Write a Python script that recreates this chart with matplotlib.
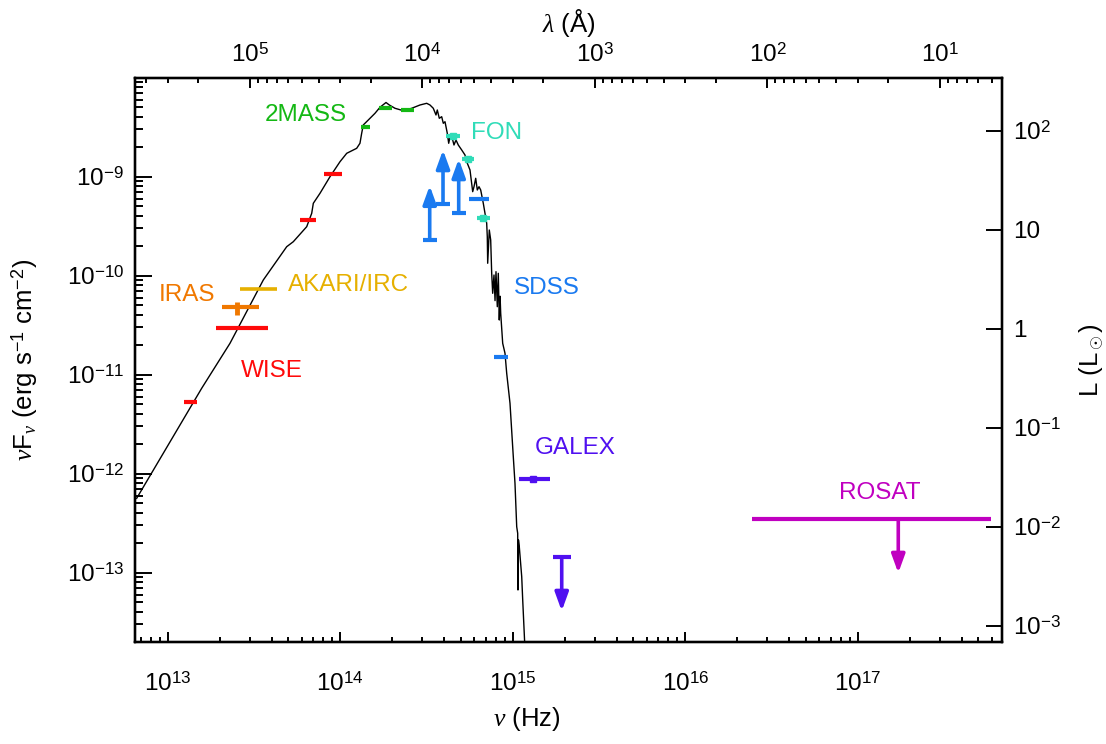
import numpy as np
import matplotlib
matplotlib.use('Agg')
import matplotlib.pyplot as plt
from matplotlib.ticker import LogLocator, FuncFormatter, NullFormatter, NullLocator

plt.rcParams['font.family'] = ['Liberation Sans', 'DejaVu Sans']
plt.rcParams['mathtext.fontset'] = 'custom'
plt.rcParams['mathtext.rm'] = 'Liberation Sans'
plt.rcParams['mathtext.it'] = 'Liberation Serif:italic'
plt.rcParams['mathtext.bf'] = 'Liberation Sans:bold'
plt.rcParams['mathtext.sf'] = 'Liberation Sans'

# ---------------- data ----------------
# model stellar SED (nu in Hz, nuFnu in erg s^-1 cm^-2)
model_nu = [6.61e12, 1.574e13, 2.297e13, 3.583e13, 4.897e13, 5.348e13, 6.395e13, 6.837e13,
            6.985e13, 7.637e13, 8.727e13, 9.973e13, 1.091e14, 1.246e14, 1.302e14, 1.332e14,
            1.361e14, 1.455e14, 1.591e14, 1.701e14, 1.843e14, 1.926e14, 2.078e14, 2.322e14,
            2.597e14, 2.901e14, 3.172e14, 3.315e14, 3.465e14, 3.592e14, 3.655e14, 3.754e14,
            3.876e14, 3.960e14, 4.051e14, 4.177e14, 4.256e14, 4.330e14, 4.489e14, 4.567e14,
            4.691e14, 4.837e14, 5.062e14, 5.290e14, 5.412e14, 5.655e14, 5.863e14, 5.966e14,
            6.103e14, 6.235e14, 6.378e14, 6.524e14, 6.754e14, 7.067e14, 7.124e14, 7.162e14,
            7.317e14, 7.455e14, 7.555e14, 7.657e14, 7.791e14, 7.900e14, 8.002e14, 8.142e14,
            8.251e14, 8.362e14, 8.450e14, 8.520e14, 8.750e14, 9.024e14, 9.231e14, 9.647e14,
            1.008e15, 1.031e15, 1.055e15, 1.069e15, 1.073e15, 1.080e15, 1.092e15, 1.128e15,
            1.143e15, 1.186e15]
model_flux = [5.643e-13, 7.29e-12, 2.076e-11, 9.05e-11, 1.963e-10, 2.205e-10, 3.126e-10, 4.268e-10,
              5.386e-10, 6.797e-10, 1.0e-9, 1.417e-9, 1.723e-9, 1.935e-9, 2.175e-9, 2.744e-9,
              3.330e-9, 3.738e-9, 4.369e-9, 5.024e-9, 5.617e-9, 5.300e-9, 4.909e-9, 4.642e-9,
              4.909e-9, 5.300e-9, 5.512e-9, 5.300e-9, 4.909e-9, 4.200e-9, 4.718e-9, 3.889e-9,
              4.036e-9, 3.462e-9, 3.593e-9, 2.744e-9, 2.175e-9, 2.536e-9, 2.348e-9, 2.090e-9,
              2.348e-9, 2.090e-9, 1.862e-9, 1.657e-9, 1.417e-9, 1.169e-9, 7.057e-10, 7.925e-10,
              9.635e-10, 7.339e-10, 7.925e-10, 7.339e-10, 5.386e-10, 3.383e-10, 2.478e-10, 1.335e-10,
              2.894e-10, 2.294e-10, 1.057e-10, 6.641e-11, 1.016e-10, 5.600e-11, 1.098e-10, 4.862e-11,
              1.057e-10, 3.568e-11, 6.200e-11, 4.171e-11, 2.076e-11, 1.645e-11, 1.033e-11, 5.141e-12,
              1.485e-12, 8.0e-13, 2.914e-13, 2.500e-13, 6.687e-14, 2.139e-13, 1.831e-13, 9.11e-14,
              5.30e-14, 1.313e-14]

# WISE (W4, W3, W2, W1): band edges and flux
wise_nu_lo = [1.243e13, 1.898e13, 5.848e13, 8.024e13]
wise_nu_hi = [1.484e13, 3.800e13, 7.211e13, 1.020e14]
wise_flux = [5.33e-12, 2.983e-11, 3.652e-10, 1.065e-9]

# IRAS 12 um
iras_nu = [2.532e13]
iras_nu_lo = [2.056e13]
iras_nu_hi = [3.383e13]
iras_flux = [4.795e-11]
iras_flux_lo = [4.009e-11]
iras_flux_hi = [5.462e-11]

# AKARI/IRC 9 um
akari_nu_lo = [2.636e13]
akari_nu_hi = [4.301e13]
akari_flux = [7.29e-11]

# 2MASS (Ks, H, J)
tmass_nu_lo = [1.315e14, 1.686e14, 2.252e14]
tmass_nu_hi = [1.495e14, 1.990e14, 2.689e14]
tmass_flux = [3.155e-9, 4.942e-9, 4.718e-9]

# FON
fon_nu = [4.51e14, 5.52e14, 6.76e14]
fon_nu_lo = [4.104e14, 5.103e14, 6.184e14]
fon_nu_hi = [4.950e14, 5.966e14, 7.386e14]
fon_flux = [2.595e-9, 1.499e-9, 3.826e-10]

# SDSS lower limits (z, i, r) and measurements (g, u)
sdss_lim_nu = [3.303e14, 3.945e14, 4.864e14]
sdss_lim_flux = [2.294e-10, 5.30e-10, 4.268e-10]
sdss_lim_tip = [8.11e-10, 1.862e-9, 1.51e-9]
sdss_nu_lo = [5.603e14, 7.826e14]
sdss_nu_hi = [7.259e14, 9.430e14]
sdss_flux = [5.953e-10, 1.52e-11]

# GALEX NUV detection and FUV upper limit
galex_nu = [1.316e15]
galex_nu_lo = [1.088e15]
galex_nu_hi = [1.652e15]
galex_flux = [8.84e-13]
galex_ul_nu = [1.924e15]
galex_ul_flux = [1.431e-13]
galex_ul_tip = [4.10e-14]

# ROSAT upper limit
rosat_nu = [1.719e17]
rosat_nu_lo = [2.449e16]
rosat_nu_hi = [5.902e17]
rosat_flux = [3.462e-13]
rosat_tip = [9.93e-14]

lum_factor = 3.44e10      # L/Lsun per unit nuFnu
c_ang = 2.998e18          # speed of light in Angstrom/s

xlim = (6.463e12, 6.836e17)
ylim = (2.009e-14, 9.86e-9)

# ---------------- colours ----------------
c_wise = '#ff0a0a'
c_iras = '#f07800'
c_akari = '#e6b000'
c_2mass = '#14b814'
c_fon = '#30dcb8'
c_sdss = '#1a7af0'
c_galex = '#5010f0'
c_rosat = '#c000c0'

fig = plt.figure(figsize=(11.06, 7.44), dpi=100)
ax = fig.add_axes([0.12206, 0.1375, 0.78363, 0.75726])
ax.set_xscale('log')
ax.set_yscale('log')
ax.set_xlim(*xlim)
ax.set_ylim(*ylim)

ax.plot(model_nu, model_flux, color='black', lw=1.0, zorder=2)

LW = 3.0
def hbar(lo, hi, y, color, lw=LW):
    for a, b, v in zip(lo, hi, y):
        ax.plot([a, b], [v, v], color=color, lw=lw, solid_capstyle='butt', zorder=3)

def up_arrow(x, y0, y1, color):
    ax.annotate('', xy=(x, y1), xytext=(x, y0),
                arrowprops=dict(arrowstyle='-|>,head_length=0.55,head_width=0.2',
                                color=color, lw=2.6, shrinkA=0, shrinkB=0,
                                mutation_scale=20), zorder=3)

hbar(wise_nu_lo, wise_nu_hi, wise_flux, c_wise)
hbar(iras_nu_lo, iras_nu_hi, iras_flux, c_iras)
for x, lo, hi in zip(iras_nu, iras_flux_lo, iras_flux_hi):
    ax.plot([x, x], [lo, hi], color=c_iras, lw=3.5, solid_capstyle='butt', zorder=3)
hbar(akari_nu_lo, akari_nu_hi, akari_flux, c_akari, lw=2.6)
hbar(tmass_nu_lo, tmass_nu_hi, tmass_flux, c_2mass)
hbar(fon_nu_lo, fon_nu_hi, fon_flux, c_fon)
ax.plot(fon_nu, fon_flux, ls='none', marker='s', ms=5, color=c_fon, zorder=3)

hbar(sdss_nu_lo, sdss_nu_hi, sdss_flux, c_sdss)
ax.plot(sdss_lim_nu, sdss_lim_flux, ls='none', marker='_', ms=9.5, mew=3, color=c_sdss, zorder=3)
for x, y0, y1 in zip(sdss_lim_nu, sdss_lim_flux, sdss_lim_tip):
    up_arrow(x, y0, y1, c_sdss)

hbar(galex_nu_lo, galex_nu_hi, galex_flux, c_galex)
ax.plot(galex_nu, galex_flux, ls='none', marker='s', ms=4.5, color=c_galex, zorder=3)
ax.plot(galex_ul_nu, galex_ul_flux, ls='none', marker='_', ms=13, mew=3, color=c_galex, zorder=3)
for x, y0, y1 in zip(galex_ul_nu, galex_ul_flux, galex_ul_tip):
    up_arrow(x, y0, y1, c_galex)

hbar(rosat_nu_lo, rosat_nu_hi, rosat_flux, c_rosat)
for x, y0, y1 in zip(rosat_nu, rosat_flux, rosat_tip):
    up_arrow(x, y0, y1, c_rosat)

# labels
FS = 17.5
lab_kw = dict(ha='center', va='center', fontsize=FS, zorder=4)
ax.text(6.36e13, 4.2e-9, '2MASS', color=c_2mass, **lab_kw)
ax.text(8.04e14, 2.74e-9, 'FON', color=c_fon, **lab_kw)
ax.text(1.57e15, 7.46e-11, 'SDSS', color=c_sdss, **lab_kw)
ax.text(1.294e13, 6.31e-11, 'IRAS', color=c_iras, **lab_kw)
ax.text(1.122e14, 8.05e-11, 'AKARI/IRC', color=c_akari, **lab_kw)
ax.text(4.0e13, 1.10e-11, 'WISE', color=c_wise, **lab_kw)
ax.text(2.313e15, 1.83e-12, 'GALEX', color=c_galex, **lab_kw)
ax.text(1.347e17, 6.38e-13, 'ROSAT', color=c_rosat, **lab_kw)

# ---------------- axes styling ----------------
def pow_fmt(v, pos):
    e = int(round(np.log10(v)))
    return r'10$^{%d}$' % e

def lum_fmt(v, pos):
    e = int(round(np.log10(v)))
    if e == 0:
        return '1'
    if e == 1:
        return '10'
    return r'10$^{%d}$' % e

for s in ax.spines.values():
    s.set_linewidth(1.6)

ax.xaxis.set_major_locator(LogLocator(base=10, numticks=30))
ax.xaxis.set_minor_locator(LogLocator(base=10, subs=np.arange(2, 10), numticks=100))
ax.yaxis.set_major_locator(LogLocator(base=10, numticks=30))
ax.yaxis.set_minor_locator(LogLocator(base=10, subs=np.arange(2, 10), numticks=100))
ax.xaxis.set_major_formatter(FuncFormatter(pow_fmt))
ax.yaxis.set_major_formatter(FuncFormatter(pow_fmt))
ax.xaxis.set_minor_formatter(NullFormatter())
ax.yaxis.set_minor_formatter(NullFormatter())
ax.tick_params(which='both', direction='in', labelsize=FS, width=1.4, colors='black')
ax.tick_params(axis='x', which='major', length=7.5, pad=22)
ax.tick_params(axis='x', which='minor', length=3.8)
ax.tick_params(axis='y', which='major', length=12.2, pad=8)
ax.tick_params(axis='y', which='minor', length=6)

ax.set_xlabel(r'$\nu$ (Hz)', fontsize=FS + 1)
ax.xaxis.set_label_coords(0.452, -0.112)
ax.set_ylabel(r'$\nu$F$_\nu$ (erg s$^{-1}$ cm$^{-2}$)', fontsize=FS + 1)
ax.yaxis.set_label_coords(-0.11, 0.5)

# top wavelength axis
axt = ax.twiny()
axt.set_xscale('log')
axt.set_xlim(c_ang / xlim[0], c_ang / xlim[1])
axt.xaxis.set_major_locator(LogLocator(base=10, numticks=30))
axt.xaxis.set_minor_locator(LogLocator(base=10, subs=np.arange(2, 10), numticks=100))
axt.xaxis.set_major_formatter(FuncFormatter(pow_fmt))
axt.xaxis.set_minor_formatter(NullFormatter())
axt.tick_params(which='both', direction='in', labelsize=FS, width=1.4)
axt.tick_params(which='major', length=7.5, pad=8)
axt.tick_params(which='minor', length=3.8)
axt.set_xlabel(r'$\lambda$ ($\mathrm{\AA}$)', fontsize=FS + 1, labelpad=8)

# right luminosity axis
axr = ax.twinx()
axr.set_yscale('log')
axr.set_ylim(ylim[0] * lum_factor, ylim[1] * lum_factor)
axr.yaxis.set_major_locator(LogLocator(base=10, numticks=30))
axr.yaxis.set_minor_locator(NullLocator())
axr.yaxis.set_major_formatter(FuncFormatter(lum_fmt))
axr.tick_params(which='major', direction='in', labelsize=FS, width=1.4, length=11.5, pad=8)
axr.set_ylabel(r'L (L$_\odot$)', fontsize=FS + 1, labelpad=12)

for a in (axt, axr):
    for s in a.spines.values():
        s.set_linewidth(1.6)

fig.savefig('out.png', dpi=100)
